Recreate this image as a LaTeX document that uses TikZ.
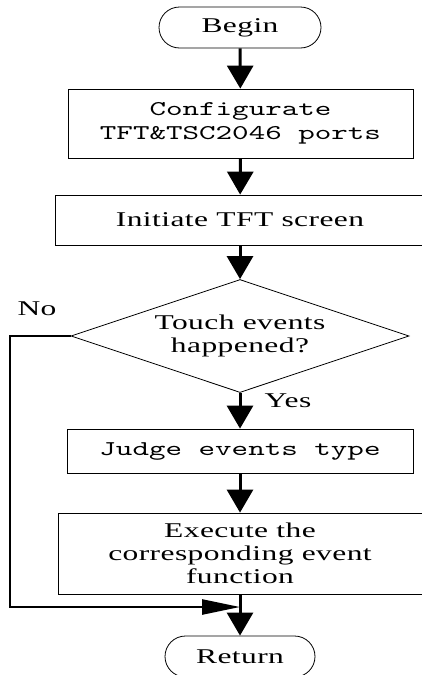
\documentclass[tikz,border=0pt]{standalone}
\usepackage{fontspec}
\setmainfont[FakeStretch=1.5, LetterSpace=2]{Liberation Serif}
\newfontfamily\codefont[FakeStretch=1.5]{lmmono10-regular.otf}
\usepackage{tikz}
\usetikzlibrary{arrows.meta, shapes.misc, shapes.geometric}
\tikzset{
    term/.style={draw, rounded rectangle, line width=0.8pt, inner sep=0pt, minimum height=41pt},
    proc/.style={draw, rectangle, line width=0.8pt, inner sep=0pt, align=center},
    procmono/.style={proc, font=\codefont\fontsize{21}{24}\selectfont},
    cond/.style={draw, diamond, aspect=3, line width=0.8pt, inner sep=0pt, align=center},
    flow/.style={line width=3pt, -{Triangle[length=23pt,width=26pt]}},
    back/.style={line width=2.5pt, -{Triangle[length=38pt,width=15pt]}},
    lbl/.style={inner sep=0pt},
}

\begin{document}
\begin{tikzpicture}[x=1pt, y=-1pt,
        every node/.style={font=\fontsize{21}{23}\selectfont},
        ]
        \useasboundingbox (0,0) rectangle (422,675);

        \node [term, minimum width=162pt] (begin) at (240,27.5) {Begin};
        \node [procmono, minimum width=345pt, minimum height=69pt] (ports) at (240.5,123.5) {Configurate\\TFT\&TSC2046 ports};
        \node [proc, minimum width=370pt, minimum height=50pt] (init) at (240,220) {Initiate TFT screen};
        \node [cond, minimum width=338pt, minimum height=113pt] (touch) at (240,336) {Touch events\\happened?};
        \node [procmono, minimum width=346pt, minimum height=44pt] (judge) at (240,451) {Judge events type};
        \node [proc, minimum width=364pt, minimum height=81pt] (exec) at (240,553.5) {Execute the\\corresponding event\\function};
        \node [term, minimum width=150pt] (ret) at (240,656.5) {Return};

        \node [lbl] (no) at (37,309) {No};
        \node [lbl] (yes) at (288,401) {Yes};

        \coordinate (left) at (10,0);
        \coordinate (join) at (240,607);

        \draw [flow] (begin) -- (ports);
        \draw [flow] (ports) -- (init);
        \draw [flow] (init) -- (touch);
        \draw [flow] (touch) -- (judge);
        \draw [flow] (judge) -- (exec);
        \draw [flow] (exec) -- (ret);

        \draw [back] (touch.west) -- (touch.west -| left) |- (join);
    \end{tikzpicture}
\end{document}
